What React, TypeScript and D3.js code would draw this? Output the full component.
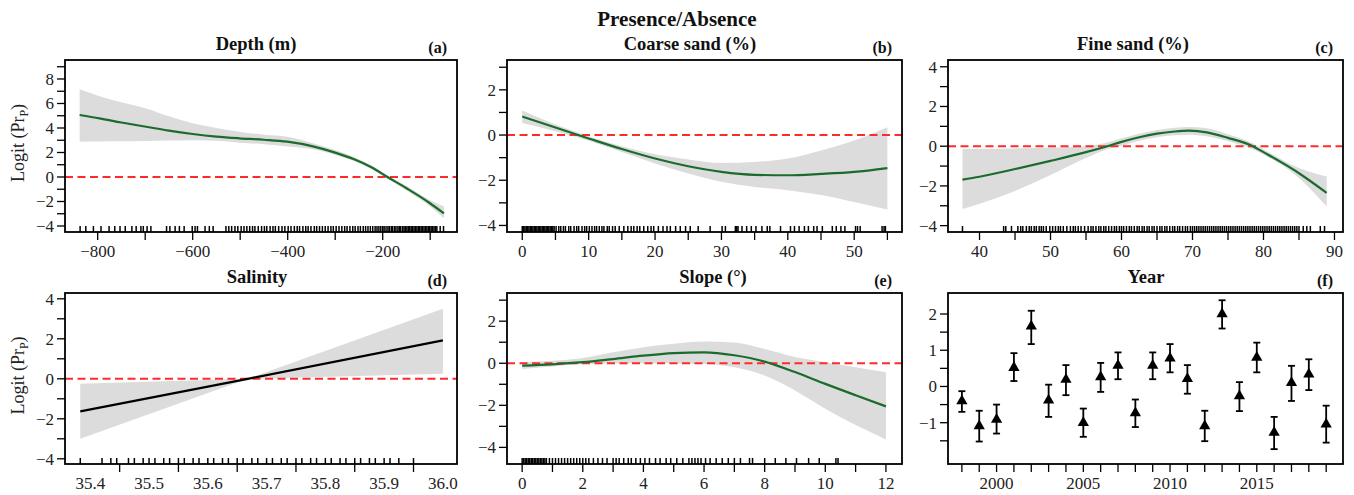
import React from "react";
import * as d3 from "d3";

// ---------- DATA ----------
const depthX = [-838, -796, -750, -698, -650, -600, -550, -502, -450, -401, -347, -300, -260, -225, -190, -150, -102, -71];
const depthFit = [5.06, 4.79, 4.45, 4.1, 3.78, 3.51, 3.3, 3.16, 3.04, 2.88, 2.5, 1.99, 1.45, 0.82, 0.0, -0.92, -2.1, -2.97];
const depthLo = [2.88, 2.9, 2.92, 2.94, 2.97, 3.0, 2.95, 2.8, 2.67, 2.48, 2.26, 1.8, 1.29, 0.68, -0.15, -1.1, -2.35, -3.37];
const depthHi = [7.16, 6.6, 6.1, 5.6, 4.95, 4.38, 4.0, 3.7, 3.45, 3.29, 2.76, 2.2, 1.62, 0.97, 0.15, -0.74, -1.85, -2.4];
const depthRug = [-837, -825, -809, -793, -776, -764, -753, -742, -728, -719, -709, -704, -696, -688, -655, -648, -637, -628, -618, -601, -595, -590, -574, -565, -557, -530, -524, -518, -511, -505, -498, -492, -486, -480, -474, -469, -462, -455, -449, -444, -437, -431, -426, -419, -412, -406, -399, -393, -386, -380, -375, -368, -362, -357, -351, -344, -339, -333, -327, -321, -315, -309, -304, -298, -292, -286, -280, -275, -269, -263, -258, -252, -247, -241, -236, -231, -226, -221, -216, -212, -208, -204, -200, -197, -193, -189, -186, -182, -179, -175, -172, -168, -165, -162, -158, -155, -152, -149, -146, -143, -140, -137, -134, -131, -128, -125, -122, -119, -116, -113, -110, -107, -104, -101, -98, -95, -92, -89, -86, -79, -72];
const depthXTicks = [-800, -700, -600, -500, -400, -300, -200, -100];
const depthXLabels = [-800, -600, -400, -200];
const depthYTicks = [-4, -3, -2, -1, 0, 1, 2, 3, 4, 5, 6, 7, 8, 9];
const depthYLabels = [-4, -2, 0, 2, 4, 6, 8];

const coarseX = [0, 5, 10, 15, 20, 25, 30, 35, 40, 45, 50, 55];
const coarseFit = [0.82, 0.33, -0.15, -0.62, -1.04, -1.38, -1.63, -1.76, -1.78, -1.72, -1.63, -1.46];
const coarseLo = [0.53, 0.17, -0.25, -0.75, -1.26, -1.7, -2.07, -2.3, -2.44, -2.65, -2.96, -3.29];
const coarseHi = [1.09, 0.47, -0.05, -0.5, -0.85, -1.08, -1.24, -1.19, -1.04, -0.68, -0.24, 0.35];
const coarseRug = [0, 0.2, 0.4, 0.6, 0.8, 1.0, 1.2, 1.4, 1.6, 1.8, 2.0, 2.2, 2.4, 2.6, 2.8, 3.0, 3.2, 3.4, 3.6, 3.8, 4.0, 4.2, 4.4, 4.6, 4.8, 5.1, 5.5, 5.8, 6.2, 6.5, 7.0, 7.3, 7.8, 8.2, 8.5, 9.0, 9.4, 9.7, 10.1, 10.5, 10.9, 11.2, 11.6, 12.0, 12.3, 12.8, 13.1, 13.6, 14.0, 14.6, 15.3, 15.9, 16.4, 16.8, 17.3, 17.7, 18.3, 18.9, 19.4, 19.8, 20.5, 21.2, 21.8, 22.3, 23.1, 23.8, 24.6, 25.3, 26.5, 28.3, 30.1, 30.6, 32.1, 32.3, 32.5, 33.1, 33.8, 34.5, 35.2, 36.1, 36.9, 37.3, 38.9, 40.4, 41.0, 41.7, 42.5, 43.1, 43.9, 44.4, 45.2, 46.7, 47.3, 48.0, 48.6, 50.2, 50.5, 50.9, 54.2, 54.5, 54.7];
const coarseXTicks = [0, 5, 10, 15, 20, 25, 30, 35, 40, 45, 50, 55];
const coarseXLabels = [0, 10, 20, 30, 40, 50];
const coarseYTicks = [-4, -3, -2, -1, 0, 1, 2, 3];
const coarseYLabels = [-4, -2, 0, 2];

const fineX = [37.6, 40, 45, 50, 55, 58, 60, 62.5, 65, 67.5, 69.5, 72, 75, 78.5, 80, 85, 88.9];
const fineFit = [-1.68, -1.54, -1.15, -0.74, -0.3, 0.0, 0.22, 0.45, 0.63, 0.74, 0.78, 0.7, 0.42, 0.0, -0.3, -1.36, -2.35];
const fineLo = [-3.16, -2.9, -2.25, -1.45, -0.6, -0.15, 0.02, 0.28, 0.45, 0.55, 0.58, 0.5, 0.25, -0.15, -0.42, -1.6, -3.04];
const fineHi = [-0.13, -0.13, -0.11, -0.07, 0.0, 0.18, 0.4, 0.63, 0.82, 0.93, 0.97, 0.9, 0.6, 0.15, -0.15, -1.1, -1.53];
const fineRug = [37.6, 43.4, 43.7, 44.5, 45.4, 45.8, 46.1, 46.6, 47.0, 47.3, 47.7, 48.0, 48.4, 48.7, 49.0, 49.4, 49.9, 50.3, 50.7, 51.1, 51.4, 51.8, 52.3, 52.8, 53.2, 53.5, 53.9, 54.3, 54.8, 55.3, 55.7, 56.0, 56.4, 56.8, 57.1, 57.5, 57.8, 58.2, 58.6, 59.0, 59.3, 59.7, 60.0, 60.3, 60.7, 61.1, 61.4, 61.8, 62.2, 62.5, 62.9, 63.2, 63.6, 63.9, 64.3, 64.6, 65.0, 65.4, 65.7, 66.1, 66.4, 66.8, 67.2, 67.5, 67.9, 68.2, 68.6, 69.0, 69.3, 69.7, 70.0, 70.3, 70.6, 70.9, 71.2, 71.5, 71.8, 72.1, 72.4, 72.7, 73.0, 73.3, 73.6, 73.9, 74.2, 74.5, 74.8, 75.1, 75.4, 75.7, 76.0, 76.3, 76.6, 76.9, 77.2, 77.5, 77.8, 78.1, 78.4, 78.7, 79.0, 79.3, 79.6, 79.9, 80.2, 80.5, 80.8, 81.1, 81.4, 81.7, 82.0, 82.3, 82.6, 82.9, 83.2, 83.5, 83.8, 84.1, 84.4, 84.7, 85.0, 85.6, 86.1, 86.6, 88.0, 88.6];
const fineXTicks = [40, 45, 50, 55, 60, 65, 70, 75, 80, 85, 90];
const fineXLabels = [40, 50, 60, 70, 80, 90];
const fineYTicks = [-4, -3, -2, -1, 0, 1, 2, 3, 4];
const fineYLabels = [-4, -2, 0, 2, 4];

const salX = [35.383, 35.668, 36.0];
const salFit = [-1.63, 0.0, 1.92];
const salLo = [-3.0, 0.0, 0.25];
const salHi = [-0.25, 0.0, 3.5];
const salRug = [35.383, 35.42, 35.435, 35.445, 35.465, 35.475, 35.49, 35.5, 35.51, 35.525, 35.535, 35.55, 35.56, 35.575, 35.585, 35.6, 35.61, 35.625, 35.635, 35.65, 35.66, 35.675, 35.685, 35.7, 35.71, 35.725, 35.735, 35.75, 35.76, 35.775, 35.785, 35.8, 35.81, 35.825, 35.835, 35.85, 35.86, 35.875, 35.885, 35.9, 35.91, 35.925, 35.95];
const salXTicks = [35.45, 35.55, 35.65, 35.75, 35.85, 35.95];
const salXLabels = [35.4, 35.5, 35.6, 35.7, 35.8, 35.9, 36.0];
const salYTicks = [-4, -3, -2, -1, 0, 1, 2, 3, 4];
const salYLabels = [-4, -2, 0, 2, 4];

const slopeX = [0, 1, 2, 3, 4, 5, 6, 7, 8, 9, 10, 11, 12];
const slopeFit = [-0.11, -0.05, 0.05, 0.2, 0.36, 0.48, 0.52, 0.38, 0.08, -0.42, -0.98, -1.52, -2.05];
const slopeLo = [-0.27, -0.15, -0.03, 0.0, 0.0, -0.01, -0.03, -0.19, -0.58, -1.29, -2.16, -2.94, -3.62];
const slopeHi = [0.05, 0.12, 0.25, 0.52, 0.76, 0.93, 1.04, 0.99, 0.68, 0.3, 0.05, -0.19, -0.43];
const slopeRug = [0, 0.05, 0.1, 0.15, 0.2, 0.25, 0.3, 0.35, 0.4, 0.45, 0.5, 0.55, 0.6, 0.65, 0.7, 0.75, 0.8, 0.9, 1.0, 1.1, 1.2, 1.3, 1.4, 1.5, 1.6, 1.7, 1.8, 1.9, 2.0, 2.1, 2.2, 2.35, 2.5, 2.65, 2.8, 3.0, 3.1, 3.2, 3.35, 3.5, 3.6, 3.75, 3.9, 4.05, 4.2, 4.4, 4.55, 4.75, 4.9, 5.1, 5.3, 5.5, 5.6, 5.7, 5.8, 5.9, 6.05, 6.2, 6.4, 6.6, 6.8, 7.0, 7.2, 7.5, 7.6, 8.0, 8.35, 8.7, 9.05, 9.45, 9.8, 10.35, 10.42];
const slopeXTicks = [0, 1, 2, 3, 4, 5, 6, 7, 8, 9, 10, 11, 12];
const slopeXLabels = [0, 2, 4, 6, 8, 10, 12];
const slopeYTicks = [-4, -3, -2, -1, 0, 1, 2, 3];
const slopeYLabels = [-4, -2, 0, 2];

const years = [1998, 1999, 2000, 2001, 2002, 2003, 2004, 2005, 2006, 2007, 2008, 2009, 2010, 2011, 2012, 2013, 2014, 2015, 2016, 2017, 2018, 2019];
const yearEst = [-0.40, -1.09, -0.91, 0.52, 1.66, -0.38, 0.19, -1.00, 0.26, 0.58, -0.73, 0.58, 0.78, 0.21, -1.09, 2.00, -0.26, 0.80, -1.27, 0.10, 0.34, -1.04];
const yearLo = [-0.70, -1.52, -1.30, 0.15, 1.17, -0.84, -0.24, -1.39, -0.15, 0.20, -1.12, 0.20, 0.39, -0.20, -1.51, 1.60, -0.68, 0.39, -1.73, -0.40, -0.10, -1.55];
const yearHi = [-0.13, -0.67, -0.50, 0.92, 2.09, 0.05, 0.59, -0.61, 0.65, 0.94, -0.36, 0.94, 1.17, 0.59, -0.67, 2.38, 0.12, 1.21, -0.84, 0.57, 0.75, -0.53];
const yearXTicks = [1998, 1999, 2000, 2001, 2002, 2003, 2004, 2005, 2006, 2007, 2008, 2009, 2010, 2011, 2012, 2013, 2014, 2015, 2016, 2017, 2018, 2019];
const yearXLabels = [2000, 2005, 2010, 2015];
const yearYTicks = [-1.5, -1, -0.5, 0, 0.5, 1, 1.5, 2];
const yearYLabels = [-1, 0, 1, 2];

// ---------- STYLE / LAYOUT ----------
const FONT = "'Liberation Serif', 'Times New Roman', serif";
const GREEN = "#1b6b2c";
const BAND = "#dcdcdc";
const RED = "#ff2b2b";

type Smooth = {
  kind: "smooth";
  x: number[]; fit: number[]; lo: number[]; hi: number[]; rug: number[];
  color: string; linear?: boolean;
};
type Pts = { kind: "points"; x: number[]; est: number[]; lo: number[]; hi: number[] };

type Panel = {
  title: string; tag: string; titleX: number;
  left: number; right: number; top: number; bottom: number;
  xDomain: [number, number]; yDomain: [number, number];
  xTicks: number[]; xLabels: number[]; yTicks: number[]; yLabels: number[];
  fmtX?: (v: number) => string; fmtY?: (v: number) => string;
  ylab?: boolean; zeroLine: boolean;
  data: Smooth | Pts;
};

const minus = (v: number) => (v < 0 ? "\u2212" + String(Math.abs(v)) : String(v));

const ROW1 = { top: 60, bottom: 232 };
const ROW2 = { top: 293, bottom: 464 };
const COL1 = { left: 65, right: 457 };
const COL2 = { left: 507, right: 902 };
const COL3 = { left: 948, right: 1343 };

const panels: Panel[] = [
  {
    title: "Depth (m)", tag: "(a)", titleX: 256, ...COL1, ...ROW1,
    xDomain: [-868.8, -43.6], yDomain: [-4.49, 9.55],
    xTicks: depthXTicks, xLabels: depthXLabels, yTicks: depthYTicks, yLabels: depthYLabels,
    ylab: true, zeroLine: true,
    data: { kind: "smooth", x: depthX, fit: depthFit, lo: depthLo, hi: depthHi, rug: depthRug, color: GREEN },
  },
  {
    title: "Coarse sand (%)", tag: "(b)", titleX: 690, ...COL2, ...ROW1,
    xDomain: [-2.3, 57.2], yDomain: [-4.29, 3.32],
    xTicks: coarseXTicks, xLabels: coarseXLabels, yTicks: coarseYTicks, yLabels: coarseYLabels,
    zeroLine: true,
    data: { kind: "smooth", x: coarseX, fit: coarseFit, lo: coarseLo, hi: coarseHi, rug: coarseRug, color: GREEN },
  },
  {
    title: "Fine sand (%)", tag: "(c)", titleX: 1133, ...COL3, ...ROW1,
    xDomain: [35.56, 91.2], yDomain: [-4.32, 4.34],
    xTicks: fineXTicks, xLabels: fineXLabels, yTicks: fineYTicks, yLabels: fineYLabels,
    zeroLine: true,
    data: { kind: "smooth", x: fineX, fit: fineFit, lo: fineLo, hi: fineHi, rug: fineRug, color: GREEN },
  },
  {
    title: "Salinity", tag: "(d)", titleX: 257, ...COL1, ...ROW2,
    xDomain: [35.357, 36.024], yDomain: [-4.26, 4.29],
    xTicks: salXTicks, xLabels: salXLabels, yTicks: salYTicks, yLabels: salYLabels,
    fmtX: (v) => v.toFixed(1),
    ylab: true, zeroLine: true,
    data: { kind: "smooth", x: salX, fit: salFit, lo: salLo, hi: salHi, rug: salRug, color: "#000000", linear: true },
  },
  {
    title: "Slope (\u00B0)", tag: "(e)", titleX: 713, ...COL2, ...ROW2,
    xDomain: [-0.5, 12.53], yDomain: [-4.79, 3.34],
    xTicks: slopeXTicks, xLabels: slopeXLabels, yTicks: slopeYTicks, yLabels: slopeYLabels,
    zeroLine: true,
    data: { kind: "smooth", x: slopeX, fit: slopeFit, lo: slopeLo, hi: slopeHi, rug: slopeRug, color: GREEN },
  },
  {
    title: "Year", tag: "(f)", titleX: 1146, ...COL3, ...ROW2,
    xDomain: [1997.2, 2019.97], yDomain: [-2.14, 2.58],
    xTicks: yearXTicks, xLabels: yearXLabels, yTicks: yearYTicks, yLabels: yearYLabels,
    zeroLine: false,
    data: { kind: "points", x: years, est: yearEst, lo: yearLo, hi: yearHi },
  },
];

const TICK = 8;
const TICK_FS = 17;

function PanelView({ p }: { p: Panel }) {
  const x = d3.scaleLinear().domain(p.xDomain).range([p.left, p.right]);
  const y = d3.scaleLinear().domain(p.yDomain).range([p.bottom, p.top]);
  const fx = p.fmtX ?? minus;
  const fy = p.fmtY ?? minus;
  const clipId = "clip-" + p.tag.replace(/[()]/g, "");
  const d = p.data;

  let content: React.ReactNode = null;
  if (d.kind === "smooth") {
    const idx = d.x.map((_, i) => i);
    const curve = d.linear ? d3.curveLinear : d3.curveMonotoneX;
    const area = d3.area<number>().x((i) => x(d.x[i])).y0((i) => y(d.lo[i])).y1((i) => y(d.hi[i])).curve(curve);
    const line = d3.line<number>().x((i) => x(d.x[i])).y((i) => y(d.fit[i])).curve(curve);
    content = (
      <g>
        <path d={area(idx) ?? ""} fill={BAND} stroke="none" />
        {p.zeroLine && (
          <line x1={p.left} x2={p.right} y1={y(0)} y2={y(0)} stroke={RED} strokeWidth={2} strokeDasharray="8,4.5" />
        )}
        <path d={line(idx) ?? ""} fill="none" stroke={d.color} strokeWidth={2.2} />
        {d.rug.map((v, i) => (
          <line key={i} x1={x(v)} x2={x(v)} y1={p.bottom - 6} y2={p.bottom} stroke="#000" strokeWidth={1.5} />
        ))}
      </g>
    );
  } else {
    const tri = d3.symbol().type(d3.symbolTriangle).size(55)();
    content = (
      <g>
        {d.x.map((v, i) => (
          <g key={i}>
            <line x1={x(v)} x2={x(v)} y1={y(d.lo[i])} y2={y(d.hi[i])} stroke="#000" strokeWidth={1.8} />
            <line x1={x(v) - 3.5} x2={x(v) + 3.5} y1={y(d.lo[i])} y2={y(d.lo[i])} stroke="#000" strokeWidth={1.8} />
            <line x1={x(v) - 3.5} x2={x(v) + 3.5} y1={y(d.hi[i])} y2={y(d.hi[i])} stroke="#000" strokeWidth={1.8} />
            <path d={tri ?? ""} transform={`translate(${x(v)},${y(d.est[i])})`} fill="#000" />
          </g>
        ))}
      </g>
    );
  }

  return (
    <g>
      <defs>
        <clipPath id={clipId}>
          <rect x={p.left} y={p.top} width={p.right - p.left} height={p.bottom - p.top} />
        </clipPath>
      </defs>
      <g clipPath={`url(#${clipId})`}>{content}</g>
      <rect x={p.left} y={p.top} width={p.right - p.left} height={p.bottom - p.top} fill="none" stroke="#000" strokeWidth={1.8} />
      {p.xTicks.map((t, i) => (
        <line key={"xt" + i} x1={x(t)} x2={x(t)} y1={p.bottom} y2={p.bottom + TICK} stroke="#000" strokeWidth={1.3} />
      ))}
      {p.xLabels.map((t, i) => (
        <text key={"xl" + i} x={x(t)} y={p.bottom + 25} textAnchor="middle" fontSize={TICK_FS} fontFamily={FONT} fill="#222">
          {fx(t)}
        </text>
      ))}
      {p.yTicks.map((t, i) => (
        <line key={"yt" + i} x1={p.left - TICK} x2={p.left} y1={y(t)} y2={y(t)} stroke="#000" strokeWidth={1.3} />
      ))}
      {p.yLabels.map((t, i) => (
        <text key={"yl" + i} x={p.left - 11} y={y(t)} dy="0.35em" textAnchor="end" fontSize={TICK_FS} fontFamily={FONT} fill="#222">
          {fy(t)}
        </text>
      ))}
      <text x={p.titleX} y={p.top - 10} textAnchor="middle" fontSize={18.5} fontWeight="bold" fontFamily={FONT} fill="#111">
        {p.title}
      </text>
      <text x={p.right - 10} y={p.top - 7} textAnchor="end" fontSize={16} fontWeight="bold" fontFamily={FONT} fill="#111">
        {p.tag}
      </text>
      {p.ylab && (
        <text
          transform={`translate(24,${(p.top + p.bottom) / 2 - 3}) rotate(-90)`}
          textAnchor="middle"
          fontSize={18}
          fontFamily={FONT}
          fill="#222"
        >
          Logit (Pr<tspan fontSize={12} dy={4}>P</tspan><tspan dy={-4}>)</tspan>
        </text>
      )}
    </g>
  );
}

export default function App() {
  return (
    <svg width={1354} height={495} style={{ position: "absolute", left: 0, top: 0, background: "#fff" }}>
      <rect x={0} y={0} width={1354} height={495} fill="#fff" />
      <text x={677} y={26} textAnchor="middle" fontSize={21} fontWeight="bold" fontFamily={FONT} fill="#111">
        Presence/Absence
      </text>
      {panels.map((p, i) => (
        <PanelView key={i} p={p} />
      ))}
    </svg>
  );
}
